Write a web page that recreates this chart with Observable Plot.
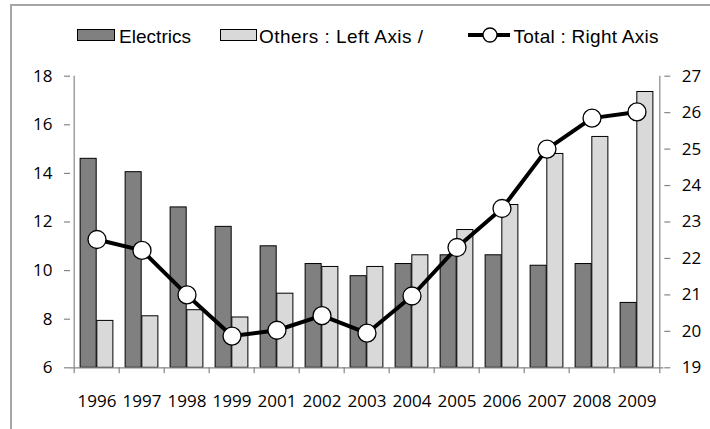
<!DOCTYPE html>
<html>
<head>
<meta charset="utf-8">
<script src="https://cdn.jsdelivr.net/npm/d3@7"></script>
<script src="https://cdn.jsdelivr.net/npm/@observablehq/plot@0.6"></script>
<style>
  body { margin: 0; background: #fff; }
  #wrap { position: relative; width: 710px; height: 429px; overflow: hidden; background: #fff; }
  #border { position: absolute; left: 10px; top: 4px; width: 900px; height: 700px; border: 2px solid #a6a6a6; box-sizing: border-box; }
  #legend { position: absolute; left: 0; top: 0; }
  #chart { position: absolute; left: 0; top: 50px; }
</style>
</head>
<body>
<div id="wrap">
  <div id="border"></div>
  <svg id="legend" width="710" height="50" font-family="'Liberation Sans', Arial, sans-serif" font-size="19">
    <rect x="77.5" y="29.5" width="37" height="11" fill="#808080" stroke="#000" stroke-width="1"></rect>
    <text x="119" y="43" textLength="72" lengthAdjust="spacing">Electrics</text>
    <rect x="220.5" y="29.5" width="36" height="11" fill="#d9d9d9" stroke="#000" stroke-width="1"></rect>
    <text x="259" y="43" textLength="164" lengthAdjust="spacing">Others : Left Axis /</text>
    <line x1="468" x2="510" y1="35" y2="35" stroke="#000" stroke-width="4"></line>
    <circle cx="490" cy="35" r="7" fill="#fff" stroke="#000" stroke-width="1.3"></circle>
    <text x="513.5" y="43" textLength="145" lengthAdjust="spacing">Total : Right Axis</text>
  </svg>
  <div id="chart"></div>
</div>
<script>
// Categories (2000 is not in the series)
const years = ["1996", "1997", "1998", "1999", "2001", "2002", "2003", "2004", "2005", "2006", "2007", "2008", "2009"];
// Left axis series
const electrics = [14.6, 14.05, 12.6, 11.8, 11.0, 10.27, 9.77, 10.27, 10.63, 10.63, 10.2, 10.27, 8.67];
const others = [7.93, 8.12, 8.37, 8.07, 9.05, 10.15, 10.15, 10.63, 11.67, 12.7, 14.8, 15.5, 17.35];
// Right axis series
const total = [22.52, 22.22, 21.0, 19.87, 20.03, 20.43, 19.95, 20.97, 22.3, 23.37, 25.0, 25.85, 26.02];
// Tick labels
const leftTicks = [6, 8, 10, 12, 14, 16, 18];
const rightTicks = [19, 20, 21, 22, 23, 24, 25, 26, 27];

const leftDomain = [6, 18];
const rightDomain = [19, 27];
// the right axis shares the plot's y scale through a linear mapping
const toLeft = v => leftDomain[0] + (v - rightDomain[0]) * (leftDomain[1] - leftDomain[0]) / (rightDomain[1] - rightDomain[0]);
const fromLeft = v => Math.round(rightDomain[0] + (v - leftDomain[0]) * (rightDomain[1] - rightDomain[0]) / (leftDomain[1] - leftDomain[0]));

const data = years.map((year, i) => ({year, electrics: electrics[i], others: others[i], total: total[i]}));

const width = 710, height = 379;
const marginLeft = 70, marginRight = 46.7, marginTop = 25.7, marginBottom = 61.7;
const bw = (width - marginLeft - marginRight) / years.length;
const barW = 16.7;
const outer = bw / 2 - barW;
const axisGray = "#868686";

const chart = Plot.plot({
  width, height, marginLeft, marginRight, marginTop, marginBottom,
  style: {fontFamily: "'Open Sans', sans-serif", fontSize: "17px", color: "#000", background: "transparent"},
  x: {type: "band", domain: years, padding: 0},
  y: {domain: leftDomain},
  marks: [
    Plot.barY(data, {x: "year", y1: leftDomain[0], y2: "electrics", fill: "#808080", stroke: "#000", strokeWidth: 1, insetLeft: outer, insetRight: bw / 2}),
    Plot.barY(data, {x: "year", y1: leftDomain[0], y2: "others", fill: "#d9d9d9", stroke: "#000", strokeWidth: 1, insetLeft: bw / 2, insetRight: outer}),
    // axis lines
    Plot.ruleY([leftDomain[0]], {stroke: axisGray, strokeWidth: 1.2}),
    Plot.ruleX([years[0]], {dx: -bw / 2, stroke: axisGray, strokeWidth: 1.2}),
    Plot.ruleX([years[years.length - 1]], {dx: bw / 2, stroke: axisGray, strokeWidth: 1.2}),
    // category boundary ticks
    Plot.axisX(years, {anchor: "bottom", tickSize: 6, dx: -bw / 2, stroke: axisGray, strokeWidth: 1.2, tickFormat: () => "", label: null}),
    Plot.axisX([years[years.length - 1]], {anchor: "bottom", tickSize: 6, dx: bw / 2, stroke: axisGray, strokeWidth: 1.2, tickFormat: () => "", label: null}),
    // category labels
    Plot.axisX(years, {anchor: "bottom", tickSize: 0, tickPadding: 27, fill: "#000", label: null}),
    Plot.axisY(leftTicks, {anchor: "left", tickSize: 6, tickPadding: 12, stroke: axisGray, strokeWidth: 1.2, fill: "#000", label: null}),
    Plot.axisY(rightTicks.map(toLeft), {anchor: "right", tickSize: 6, tickPadding: 12, stroke: axisGray, strokeWidth: 1.2, fill: "#000", tickFormat: fromLeft, label: null}),
    // total on the right axis
    Plot.line(data, {x: "year", y: d => toLeft(d.total), stroke: "#000", strokeWidth: 4}),
    Plot.dot(data, {x: "year", y: d => toLeft(d.total), r: 9, fill: "#fff", stroke: "#000", strokeWidth: 1.3})
  ]
});
document.getElementById("chart").appendChild(chart);
</script>
</body>
</html>
